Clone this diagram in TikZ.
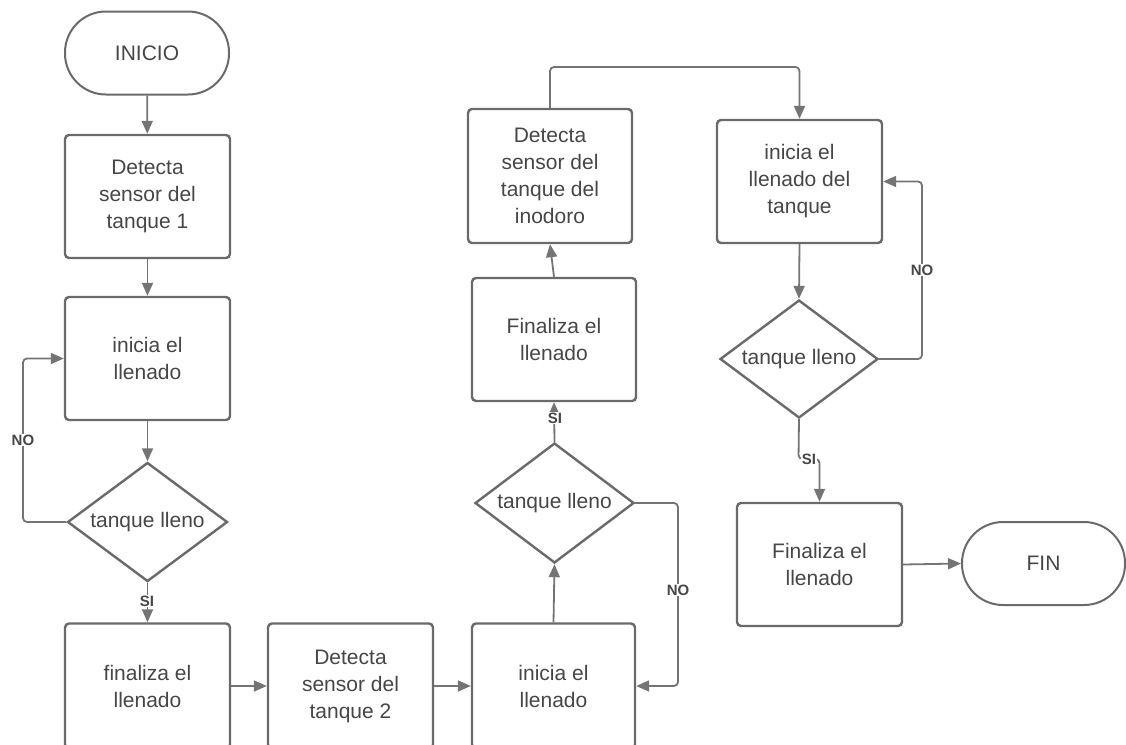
\documentclass[tikz,border=0pt]{standalone}
\usepackage{fontspec}
\setmainfont{Liberation Sans}
\usetikzlibrary{shapes.geometric,arrows.meta}
\definecolor{edgec}{HTML}{6A6A6A}
\definecolor{linec}{HTML}{747474}
\definecolor{txtc}{HTML}{464646}
\begin{document}
\begin{tikzpicture}[x=1pt,y=-1pt,
  every node/.style={text=txtc, font=\fontsize{21}{27}\selectfont},
  procbox/.style={draw=edgec, line width=2.4pt, rounded corners=4pt, align=center, minimum width=165pt, minimum height=123pt, inner sep=2pt},
  termbox/.style={draw=edgec, line width=2pt, rounded corners=41pt, align=center, minimum width=164pt, minimum height=83pt},
  decbox/.style={draw=edgec, line width=2.4pt, diamond, aspect=1.34, inner sep=0pt, minimum width=160pt, minimum height=119pt},
  conn/.style={draw=linec, line width=1.8pt, rounded corners=4pt, -{Triangle[length=13pt,width=11pt]}},
  lbl/.style={fill=white, inner sep=1pt, font=\bfseries\fontsize{15}{15}\selectfont}
]
\useasboundingbox (0,0) rectangle (1126,744);

% nodes
\node[termbox] (inicio) at (147,53) {INICIO};
\node[procbox] (b1) at (147.5,196.5) {Detecta\\sensor del\\tanque 1};
\node[procbox] (b2) at (147.5,358.5) {inicia el\\llenado};
\node[decbox] (d1) at (147.5,522) {tanque lleno};
\node[procbox, minimum height=125pt] (b3) at (147.5,686) {finaliza el\\llenado};
\node[procbox, minimum height=125pt] (b4) at (350.5,686) {Detecta\\sensor del\\tanque 2};
\node[procbox, minimum width=163pt, minimum height=125pt] (b5) at (553.5,686) {inicia el\\llenado};
\node[decbox, minimum width=159pt, minimum height=120pt] (d2) at (554.5,503) {tanque lleno};
\node[procbox, minimum width=164pt] (b6) at (554,339.5) {Finaliza el\\llenado};
\node[procbox, minimum width=164pt, minimum height=134pt] (b7) at (550,176) {Detecta\\sensor del\\tanque del\\inodoro};
\node[procbox] (b8) at (799.5,181.5) {inicia el\\llenado del\\tanque};
\node[decbox, minimum width=158pt, minimum height=118pt] (d3) at (799,359) {tanque lleno};
\node[procbox] (b9) at (819.5,564.5) {Finaliza el\\llenado};
\node[termbox, minimum width=163pt] (fin) at (1043.5,563.5) {FIN};

\coordinate (topc) at (550,67);
\coordinate (n1) at (23,522);
\coordinate (n2) at (678,503);
\coordinate (n3) at (922,359);
\coordinate (s3) at (798.5,459);

% connectors
\draw[conn] (inicio) -- (b1);
\draw[conn] (b1) -- (b2);
\draw[conn] (b2) -- (d1);
\draw[conn] (d1.west) -- (n1) |- (b2.west);
\draw[conn] (d1.south) -- (b3.north);
\draw[conn] (b3.east) -- (b4.west);
\draw[conn] (b4.east) -- (b5.west);
\draw[conn] (b5.north) -- (d2.south);
\draw[conn] (d2.east) -- (n2) |- (b5.east);
\draw[conn] (d2.north) -- (b6.south);
\draw[conn] (b6.north) -- (b7.south);
\draw[conn] (b7.north) -- (topc) -| (b8.north);
\draw[conn] (b8.south) -- (d3.north);
\draw[conn] (d3.east) -- (n3) |- (b8.east);
\draw[conn] (d3.south) -- (s3) -| (b9.north);
\draw[conn] (b9.east) -- (fin.west);

% labels
\node[lbl] (l1) at (23,440) {NO};
\node[lbl] (l2) at (147,601) {SI};
\node[lbl] (l3) at (678,590) {NO};
\node[lbl] (l4) at (555,418) {SI};
\node[lbl] (l5) at (922,270) {NO};
\node[lbl] (l6) at (809,459) {SI};
\end{tikzpicture}
\end{document}
